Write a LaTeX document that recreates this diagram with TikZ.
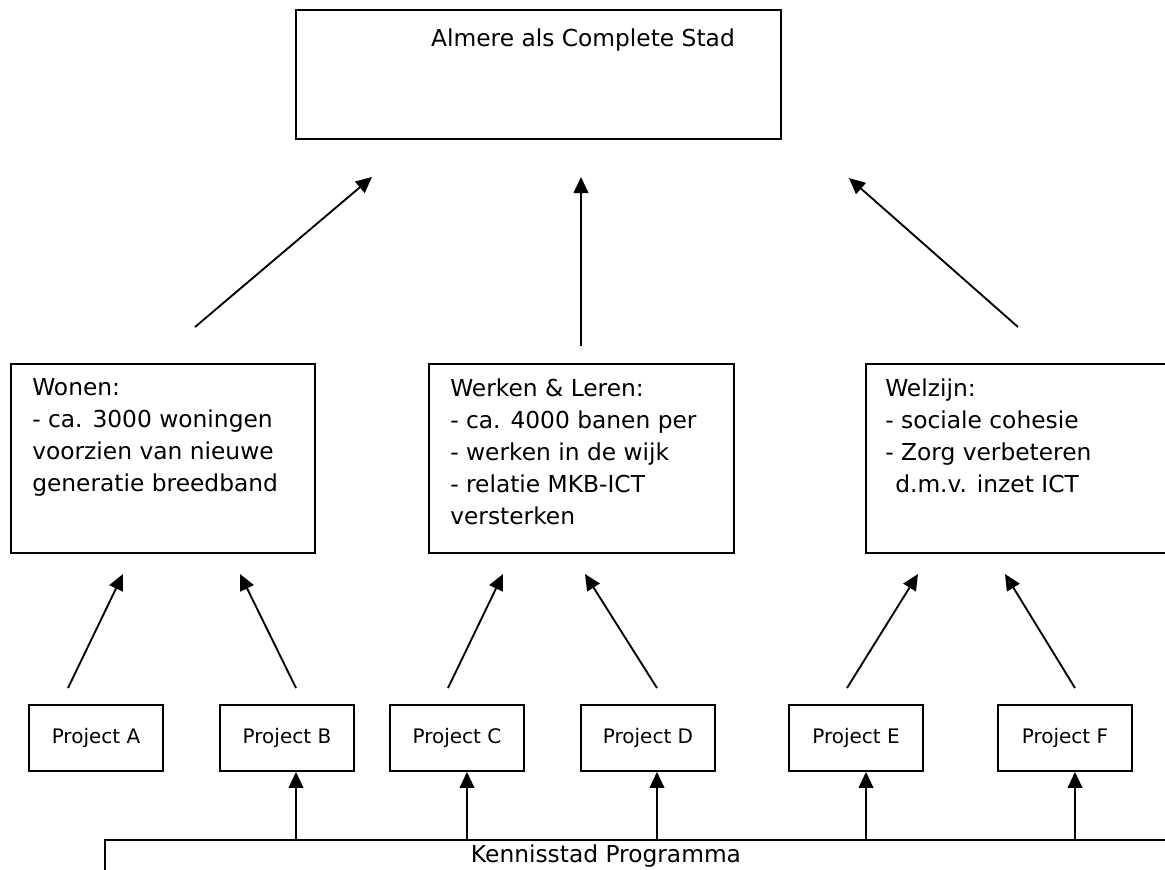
\documentclass[tikz,border=0pt]{standalone}
\usepackage{fontspec}
\setmainfont{DejaVu Sans}
\usetikzlibrary{arrows.meta}
\begin{document}
\begin{tikzpicture}[x=0.75pt,y=-0.75pt,
  box/.style={draw,line width=1.4pt,inner sep=0pt},
  arr/.style={line width=1.4pt,-{Triangle[length=12pt,width=11pt]}},
  big/.style={font=\fontsize{17.5}{24}\selectfont},
  small/.style={font=\fontsize{15}{18}\selectfont},
  body/.style={big,align=left,anchor=north west,inner sep=0pt},
  projbox/.style={box,minimum width=100.5pt,minimum height=49.5pt,small}]
\useasboundingbox (0,0) rectangle (1165,869);
\clip (0,0) rectangle (1165,869);
% top box
\node[box,minimum width=363.75pt,minimum height=96.75pt] (top) at (538.5,74.5) {};
\node[big] (toptxt) at (583,40) {Almere als Complete Stad};
% middle boxes
\node[box,minimum width=228pt,minimum height=141.75pt] (wonen) at (163,458.5) {};
\node[body] (wonentxt) at (32,378) {Wonen:\\- ca. 3000 woningen\\voorzien van nieuwe\\generatie breedband};
\node[box,minimum width=228.75pt,minimum height=141.75pt] (werken) at (581.5,458.5) {};
\node[body] (werkentxt) at (450,378) {Werken \& Leren:\\- ca. 4000 banen per\\- werken in de wijk\\- relatie MKB-ICT\\versterken};
\node[box,minimum width=240pt,minimum height=141.75pt] (welzijn) at (1026,458.5) {};
\node[body] (welzijntxt) at (885,378) {Welzijn:\\- sociale cohesie\\- Zorg verbeteren\\\hspace*{7.5pt}d.m.v. inzet ICT};
% projects
\node[projbox] (pA) at (96,738) {Project A};
\node[projbox] (pB) at (287,738) {Project B};
\node[projbox] (pC) at (457,738) {Project C};
\node[projbox] (pD) at (648,738) {Project D};
\node[projbox] (pE) at (856,738) {Project E};
\node[projbox] (pF) at (1065,738) {Project F};
% Kennisstad
\node[box,minimum width=821.25pt,minimum height=45pt] (kenn) at (652.5,870) {};
\node[big] (kenntxt) at (606,856) {Kennisstad Programma};
% arrows middle -> top
\coordinate (uL0) at (195,327); \coordinate (uL1) at (372,177);
\coordinate (uM0) at (581,346); \coordinate (uM1) at (581,177);
\coordinate (uR0) at (1018,327); \coordinate (uR1) at (849,178);
\draw[arr] (uL0) -- (uL1);
\draw[arr] (uM0) -- (uM1);
\draw[arr] (uR0) -- (uR1);
% arrows projects -> middle
\coordinate (aA0) at (68,688); \coordinate (aA1) at (123,574);
\coordinate (aB0) at (296,688); \coordinate (aB1) at (240,574);
\coordinate (aC0) at (448,688); \coordinate (aC1) at (503,574);
\coordinate (aD0) at (657,688); \coordinate (aD1) at (585,574);
\coordinate (aE0) at (847,688); \coordinate (aE1) at (918,574);
\coordinate (aF0) at (1075,688); \coordinate (aF1) at (1005,574);
\foreach \p in {A,B,C,D,E,F} {\draw[arr] (a\p0) -- (a\p1);}
% arrows Kennisstad -> projects
\coordinate (bB) at (296,840);
\coordinate (bC) at (467,840);
\coordinate (bD) at (657,840);
\coordinate (bE) at (866,840);
\coordinate (bF) at (1075,840);
\draw[arr] (bB) -- (bB |- pB.south);
\draw[arr] (bC) -- (bC |- pC.south);
\draw[arr] (bD) -- (bD |- pD.south);
\draw[arr] (bE) -- (bE |- pE.south);
\draw[arr] (bF) -- (bF |- pF.south);
\end{tikzpicture}
\end{document}
